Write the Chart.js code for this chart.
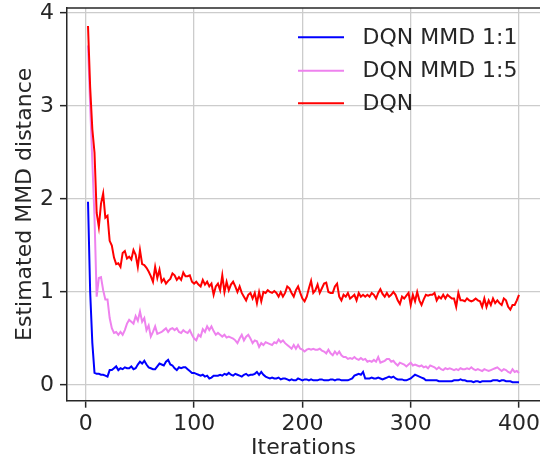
<!DOCTYPE html>
<html>
<head>
<meta charset="utf-8">
<script src="https://cdn.jsdelivr.net/npm/chart.js@4/dist/chart.umd.min.js"></script>
<style>
  html, body { margin: 0; padding: 0; background: #ffffff; }
  #c { display: block; }
</style>
</head>
<body>
<canvas id="c" width="540" height="460"></canvas>
<script>
const iterations = [2,4,6,8,10,12,14,16,18,20,22,24,26,28,30,32,34,36,38,40,
42,44,46,48,50,52,54,56,58,60,62,64,66,68,70,72,74,76,78,80,
82,84,86,88,90,92,94,96,98,100,102,104,106,108,110,112,114,116,118,120,
122,124,126,128,130,132,134,136,138,140,142,144,146,148,150,152,154,156,158,160,
162,164,166,168,170,172,174,176,178,180,182,184,186,188,190,192,194,196,198,200,
202,204,206,208,210,212,214,216,218,220,222,224,226,228,230,232,234,236,238,240,
242,244,246,248,250,252,254,256,258,260,262,264,266,268,270,272,274,276,278,280,
282,284,286,288,290,292,294,296,298,300,302,304,306,308,310,312,314,316,318,320,
322,324,326,328,330,332,334,336,338,340,342,344,346,348,350,352,354,356,358,360,
362,364,366,368,370,372,374,376,378,380,382,384,386,388,390,392,394,396,398,400];

const mmd11 = [1.97,1.00,0.45,0.13,0.12,0.12,0.11,0.11,0.10,0.09,0.16,0.16,0.18,0.20,0.16,0.18,0.17,0.19,0.18,0.18,
0.20,0.17,0.18,0.22,0.25,0.23,0.26,0.22,0.19,0.18,0.17,0.17,0.20,0.23,0.22,0.21,0.25,0.27,0.22,0.21,
0.18,0.16,0.19,0.18,0.19,0.19,0.17,0.15,0.13,0.13,0.12,0.11,0.10,0.11,0.09,0.10,0.07,0.08,0.10,0.10,
0.10,0.11,0.10,0.12,0.11,0.13,0.11,0.10,0.12,0.11,0.10,0.09,0.11,0.12,0.10,0.11,0.11,0.12,0.14,0.11,
0.14,0.11,0.09,0.08,0.07,0.08,0.07,0.07,0.08,0.06,0.07,0.07,0.06,0.05,0.06,0.05,0.05,0.07,0.06,0.05,
0.06,0.06,0.05,0.06,0.05,0.05,0.05,0.06,0.06,0.05,0.05,0.05,0.06,0.06,0.05,0.06,0.06,0.05,0.05,0.05,
0.05,0.06,0.07,0.10,0.11,0.12,0.11,0.14,0.07,0.07,0.07,0.08,0.07,0.07,0.08,0.07,0.06,0.07,0.08,0.09,
0.08,0.09,0.07,0.06,0.06,0.06,0.05,0.05,0.06,0.07,0.09,0.11,0.10,0.09,0.08,0.07,0.05,0.05,0.05,0.05,
0.05,0.05,0.04,0.04,0.04,0.04,0.04,0.04,0.04,0.05,0.05,0.05,0.06,0.05,0.05,0.04,0.04,0.04,0.03,0.04,
0.04,0.03,0.04,0.04,0.04,0.04,0.04,0.05,0.05,0.05,0.04,0.05,0.05,0.04,0.04,0.04,0.03,0.03,0.03,0.03];

const mmd15 = [3.65,3.00,2.40,1.80,0.95,1.15,1.16,1.02,0.92,0.92,0.72,0.61,0.56,0.57,0.54,0.57,0.54,0.59,0.66,0.70,
0.68,0.66,0.74,0.69,0.79,0.68,0.72,0.59,0.64,0.52,0.57,0.63,0.55,0.56,0.57,0.59,0.61,0.57,0.60,0.61,
0.59,0.61,0.57,0.56,0.59,0.57,0.56,0.59,0.54,0.50,0.48,0.54,0.52,0.60,0.57,0.63,0.59,0.63,0.58,0.54,
0.56,0.54,0.52,0.54,0.51,0.52,0.51,0.50,0.48,0.45,0.50,0.54,0.48,0.52,0.54,0.50,0.45,0.48,0.47,0.41,
0.45,0.43,0.46,0.45,0.44,0.43,0.46,0.45,0.49,0.46,0.48,0.45,0.43,0.41,0.39,0.43,0.39,0.43,0.39,0.38,
0.36,0.38,0.39,0.38,0.39,0.38,0.38,0.39,0.37,0.36,0.34,0.38,0.34,0.32,0.36,0.33,0.36,0.32,0.30,0.30,
0.28,0.29,0.28,0.30,0.28,0.27,0.29,0.27,0.28,0.25,0.26,0.25,0.27,0.25,0.30,0.24,0.25,0.26,0.28,0.28,
0.25,0.26,0.23,0.21,0.24,0.23,0.22,0.20,0.22,0.24,0.21,0.22,0.21,0.20,0.21,0.19,0.20,0.18,0.21,0.20,
0.19,0.17,0.19,0.17,0.16,0.18,0.17,0.18,0.17,0.16,0.17,0.16,0.18,0.17,0.17,0.18,0.17,0.19,0.17,0.16,
0.17,0.16,0.15,0.17,0.16,0.15,0.16,0.17,0.18,0.19,0.17,0.15,0.17,0.16,0.14,0.13,0.17,0.14,0.15,0.13];

const dqn = [3.86,3.20,2.75,2.50,1.85,1.70,1.95,2.06,1.80,1.82,1.55,1.50,1.37,1.30,1.31,1.27,1.42,1.44,1.36,1.38,
1.35,1.45,1.40,1.27,1.45,1.30,1.29,1.26,1.22,1.17,1.11,1.27,1.15,1.24,1.11,1.14,1.09,1.12,1.14,1.20,
1.18,1.13,1.16,1.13,1.21,1.17,1.17,1.18,1.11,1.09,1.11,1.08,1.06,1.13,1.08,1.11,1.06,1.09,0.97,1.06,
1.09,1.02,1.18,1.00,1.11,1.02,1.08,1.11,1.06,1.00,1.06,0.99,0.95,0.91,0.97,0.99,0.93,0.99,0.88,1.00,
0.90,1.00,0.99,1.02,1.00,0.99,1.01,0.99,0.95,1.00,0.95,0.99,1.06,1.04,0.99,0.95,1.02,1.06,0.99,0.93,
0.90,0.95,1.04,1.12,0.99,1.02,1.08,0.99,1.04,1.09,1.10,1.00,0.99,0.99,1.06,1.09,0.95,0.91,0.97,0.95,
0.99,0.93,0.95,0.97,0.91,0.99,0.95,0.97,0.95,0.97,0.95,0.99,0.97,0.93,0.99,1.03,0.98,0.95,0.99,0.95,
0.97,1.00,0.97,0.91,0.87,0.95,0.93,0.96,0.99,0.86,0.97,0.90,1.00,0.91,0.86,0.92,0.97,0.96,0.97,0.97,
0.99,0.91,0.95,0.93,0.97,0.93,0.97,0.95,0.93,0.93,0.84,0.99,0.91,0.91,0.90,0.93,0.91,0.90,0.91,0.93,
0.91,0.90,0.84,0.93,0.84,0.91,0.86,0.93,0.88,0.91,0.88,0.86,0.93,0.91,0.84,0.81,0.86,0.86,0.91,0.97];

const seriesLabels = ['DQN MMD 1:1', 'DQN MMD 1:5', 'DQN'];
const seriesColors = ['#0000ff', '#ee82ee', '#ff0000'];
const xTickValues = [0, 100, 200, 300, 400];
const yTickValues = [0, 1, 2, 3, 4];
const xTitle = 'Iterations';
const yTitle = 'Estimated MMD distance';

const seriesData = [mmd11, mmd15, dqn];
const FONT = 'DejaVu Sans';
const TEXT = '#262626';
const EDGE = '#262626';
const GRID = '#cccccc';

function toPoints(ys) {
  return iterations.map((x, i) => ({ x: x, y: ys[i] }));
}

const datasets = seriesData.map((ys, i) => ({
  label: seriesLabels[i],
  data: toPoints(ys),
  borderColor: seriesColors[i],
  backgroundColor: seriesColors[i],
  borderWidth: 2,
  pointRadius: 0,
  tension: 0,
  fill: false,
  order: seriesData.length - i
}));

const framePlugin = {
  id: 'frame',
  afterDraw(chart) {
    const ctx = chart.ctx;
    const a = chart.chartArea;
    ctx.save();
    ctx.strokeStyle = EDGE;
    ctx.lineWidth = 1.5;
    ctx.beginPath();
    ctx.moveTo(a.left, a.top);
    ctx.lineTo(a.right, a.top);
    ctx.stroke();
    // legend
    const lx0 = 298, lx1 = 344, tx = 362.5;
    const ys = [37.3, 70.7, 103.3];
    ctx.font = '22px "' + FONT + '"';
    ctx.textBaseline = 'middle';
    ctx.textAlign = 'left';
    for (let i = 0; i < seriesLabels.length; i++) {
      ctx.strokeStyle = seriesColors[i];
      ctx.lineWidth = 2;
      ctx.beginPath();
      ctx.moveTo(lx0, ys[i]);
      ctx.lineTo(lx1, ys[i]);
      ctx.stroke();
      ctx.fillStyle = TEXT;
      ctx.fillText(seriesLabels[i], tx, ys[i] + 0.5);
    }
    ctx.restore();
  }
};

new Chart(document.getElementById('c'), {
  type: 'line',
  data: { datasets: datasets },
  options: {
    responsive: false,
    animation: false,
    devicePixelRatio: 1,
    layout: { padding: { top: 8, right: 0, left: 0, bottom: 0 } },
    plugins: { legend: { display: false }, tooltip: { enabled: false } },
    scales: {
      x: {
        type: 'linear',
        min: -17.4,
        max: 419.4,
        afterBuildTicks(scale) { scale.ticks = xTickValues.map(v => ({ value: v })); },
        afterFit(scale) { scale.height = 59.3; scale.paddingLeft = 0; scale.paddingRight = 0; },
        grid: { color: GRID, lineWidth: 1.3, tickColor: EDGE, tickLength: 7, tickWidth: 1.5 },
        border: { display: true, color: EDGE, width: 1.5 },
        ticks: { color: TEXT, font: { family: FONT, size: 22 }, padding: 3, maxRotation: 0, autoSkip: false },
        title: { display: true, text: xTitle, color: TEXT, font: { family: FONT, size: 22, lineHeight: 1.1 }, padding: { top: 0, bottom: 0 } }
      },
      y: {
        type: 'linear',
        min: -0.169,
        max: 4.054,
        afterBuildTicks(scale) { scale.ticks = yTickValues.map(v => ({ value: v })); },
        afterFit(scale) { scale.width = 67; scale.paddingTop = 0; scale.paddingBottom = 0; },
        grid: { color: GRID, lineWidth: 1.3, tickColor: EDGE, tickLength: 7, tickWidth: 1.5 },
        border: { display: true, color: EDGE, width: 1.5 },
        ticks: { color: TEXT, font: { family: FONT, size: 22 }, padding: 6 },
        title: { display: true, text: yTitle, color: TEXT, font: { family: FONT, size: 22, lineHeight: 1.1 }, padding: { top: 13, bottom: 0 } }
      }
    }
  },
  plugins: [framePlugin]
});
</script>
</body>
</html>
